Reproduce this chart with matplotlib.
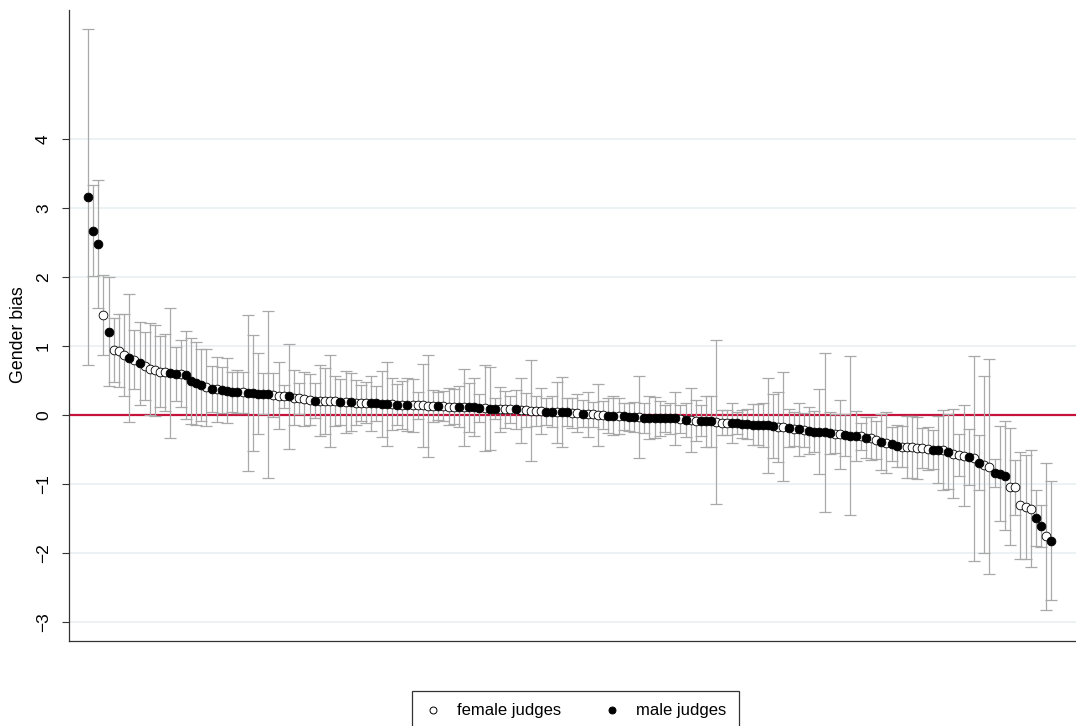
import numpy as np
import matplotlib
matplotlib.use("Agg")
import matplotlib.pyplot as plt
from matplotlib.lines import Line2D

plt.rcParams['font.family'] = ['Liberation Sans', 'DejaVu Sans']

# estimated gender bias per judge, sorted from largest to smallest
bias = [
    3.16, 2.67, 2.48, 1.45, 1.21, 0.94, 0.93, 0.87, 0.83, 0.80,
    0.75, 0.71, 0.67, 0.65, 0.63, 0.62, 0.61, 0.60, 0.60, 0.58,
    0.49, 0.46, 0.43, 0.40, 0.38, 0.37, 0.36, 0.35, 0.34, 0.34,
    0.33, 0.32, 0.32, 0.31, 0.31, 0.30, 0.29, 0.28, 0.27, 0.27,
    0.25, 0.24, 0.23, 0.22, 0.21, 0.21, 0.20, 0.20, 0.20, 0.19,
    0.19, 0.19, 0.18, 0.18, 0.18, 0.17, 0.17, 0.16, 0.16, 0.16,
    0.15, 0.15, 0.15, 0.14, 0.14, 0.14, 0.13, 0.13, 0.13, 0.13,
    0.12, 0.12, 0.12, 0.11, 0.11, 0.11, 0.10, 0.10, 0.09, 0.09,
    0.08, 0.08, 0.08, 0.08, 0.07, 0.07, 0.06, 0.06, 0.06, 0.05,
    0.05, 0.04, 0.04, 0.04, 0.03, 0.03, 0.02, 0.01, 0.01, 0.00,
    0.00, -0.01, -0.01, -0.02, -0.02, -0.03, -0.03, -0.03, -0.04, -0.04,
    -0.04, -0.05, -0.05, -0.05, -0.05, -0.06, -0.07, -0.07, -0.08, -0.08,
    -0.09, -0.09, -0.10, -0.11, -0.11, -0.12, -0.12, -0.13, -0.13, -0.14,
    -0.14, -0.15, -0.15, -0.16, -0.17, -0.17, -0.19, -0.20, -0.21, -0.22,
    -0.23, -0.24, -0.24, -0.25, -0.26, -0.27, -0.28, -0.29, -0.30, -0.30,
    -0.31, -0.33, -0.34, -0.36, -0.39, -0.40, -0.42, -0.45, -0.46, -0.47,
    -0.47, -0.48, -0.48, -0.49, -0.50, -0.50, -0.51, -0.53, -0.56, -0.58,
    -0.59, -0.61, -0.63, -0.69, -0.72, -0.75, -0.84, -0.85, -0.88, -1.04,
    -1.05, -1.31, -1.33, -1.36, -1.49, -1.61, -1.76, -1.82,
]

# half-width of the confidence interval for each judge
ci_half = [
    2.43, 0.66, 0.93, 0.58, 0.79, 0.46, 0.53, 0.60, 0.93, 0.43,
    0.60, 0.49, 0.67, 0.66, 0.51, 0.56, 0.94, 0.39, 0.48, 0.64,
    0.62, 0.60, 0.52, 0.56, 0.33, 0.47, 0.33, 0.47, 0.29, 0.31,
    0.30, 1.13, 0.84, 0.59, 0.30, 1.21, 0.32, 0.49, 0.17, 0.76,
    0.40, 0.23, 0.39, 0.37, 0.25, 0.52, 0.48, 0.67, 0.36, 0.33,
    0.45, 0.42, 0.33, 0.26, 0.30, 0.40, 0.25, 0.48, 0.61, 0.38,
    0.30, 0.35, 0.38, 0.38, 0.20, 0.60, 0.74, 0.23, 0.20, 0.22,
    0.27, 0.25, 0.30, 0.56, 0.36, 0.42, 0.20, 0.62, 0.60, 0.15,
    0.33, 0.27, 0.20, 0.28, 0.47, 0.25, 0.73, 0.22, 0.33, 0.19,
    0.22, 0.44, 0.51, 0.20, 0.22, 0.27, 0.20, 0.33, 0.18, 0.45,
    0.20, 0.25, 0.28, 0.26, 0.20, 0.20, 0.22, 0.59, 0.22, 0.31,
    0.30, 0.25, 0.19, 0.22, 0.38, 0.20, 0.25, 0.46, 0.30, 0.22,
    0.37, 0.37, 1.19, 0.18, 0.18, 0.29, 0.16, 0.20, 0.22, 0.30,
    0.30, 0.32, 0.69, 0.46, 0.51, 0.79, 0.27, 0.25, 0.39, 0.25,
    0.34, 0.30, 0.61, 1.15, 0.31, 0.28, 0.50, 0.30, 1.15, 0.36,
    0.20, 0.30, 0.31, 0.28, 0.41, 0.44, 0.25, 0.31, 0.30, 0.45,
    0.45, 0.45, 0.29, 0.31, 0.28, 0.48, 0.58, 0.54, 0.65, 0.30,
    0.73, 0.41, 1.49, 0.40, 1.28, 1.56, 0.20, 0.69, 0.79, 0.85,
    0.40, 0.77, 0.75, 0.85, 0.41, 0.30, 1.06, 0.86,
]

# F = female judge, M = male judge (same order as bias)
gender = list(
    "MMMFMFFFMF" "MFFFFFMMFM" "MMMFMFMMMM" "FMMMMMFFFM"
    "FFFFMFFFFM" "FMFFFMMMMF" "MFMFFFFFMF" "FFMFMMMFMM"
    "FFFMFFFFFM" "MFMMFFMFFF" "FMMFMMMFMM" "MMMMMFMFFM"
    "MMFFFMMMMM" "MMMMFFMFMF" "MMMMMFFMMM" "FMFFMFMMFF"
    "FFFFMMFMFF" "FMFMFFMMMF" "FFFFMMFM"
)

yticks = [-3, -2, -1, 0, 1, 2, 3, 4]

bias = np.array(bias)
ci_half = np.array(ci_half)
x = np.arange(len(bias))
is_male = np.array([g == "M" for g in gender])

fig = plt.figure(figsize=(10.76, 7.26), dpi=100)
ax = fig.add_axes([69 / 1076, 1 - 641 / 726, 1 - 69 / 1076, (641 - 10) / 726])

for t in yticks:
    ax.axhline(t, color="#eaf1f3", lw=1.3, zorder=0)
ax.axhline(0, color="#c4123a", lw=1.6, zorder=1.8)

ax.errorbar(x, bias, yerr=ci_half, fmt="none", ecolor="#a9a9a9",
            elinewidth=0.9, capsize=4.6, capthick=0.9, zorder=2)
ax.plot(x[~is_male], bias[~is_male], "o", ms=6.3, mfc="white", mec="black",
        mew=0.6, zorder=3, linestyle="none")
ax.plot(x[is_male], bias[is_male], "o", ms=6.3, mfc="black", mec="black",
        mew=0.6, zorder=3, linestyle="none")

ax.set_xlim(-3.69, 191.8)
ax.set_ylim((415 - 641) / 69, (415 - 10) / 69)
ax.set_yticks(yticks)
ax.set_yticklabels([str(t).replace("-", "\u2212") for t in yticks],
                   rotation=90, va="center", fontsize=12.5)
ax.tick_params(axis="y", length=5, width=0.8, pad=8, color="#333333")
ax.set_xticks([])
ax.set_ylabel("Gender bias", fontsize=12.8)
ax.yaxis.set_label_coords(-0.042, 0.486)
for s in ("top", "right"):
    ax.spines[s].set_visible(False)
for s in ("left", "bottom"):
    ax.spines[s].set_color("#333333")
    ax.spines[s].set_linewidth(0.9)

handles = [
    Line2D([], [], marker="o", ls="none", ms=5, mfc="white", mec="black", mew=0.7),
    Line2D([], [], marker="o", ls="none", ms=5, mfc="black", mec="black", mew=0.7),
]
leg = fig.legend(handles, ["female judges", "male judges"], ncol=2,
                 loc="center", bbox_to_anchor=(575.5 / 1076, 1 - 711 / 726),
                 fontsize=12, frameon=True, fancybox=False, edgecolor="black",
                 handlelength=1.0, handletextpad=0.9, columnspacing=2.6,
                 borderpad=0.75)
leg.get_frame().set_linewidth(0.9)

fig.savefig("out.png", dpi=100)
